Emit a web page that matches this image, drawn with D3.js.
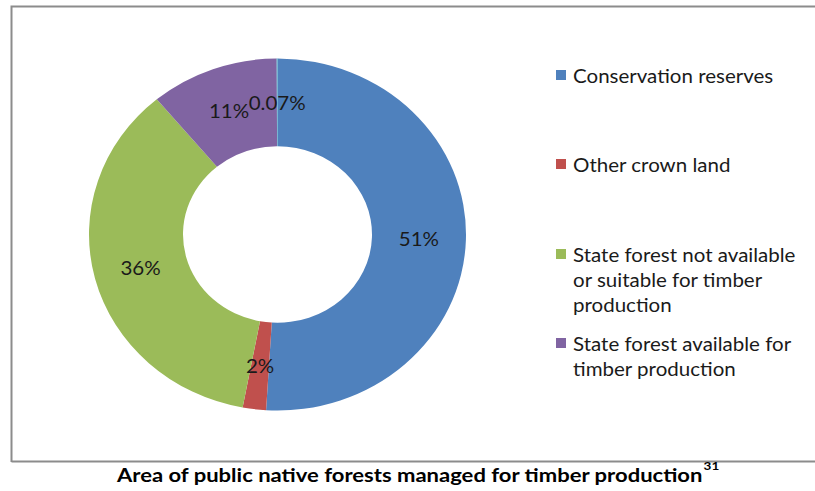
<!DOCTYPE html>
<html>
<head>
<meta charset="utf-8">
<script src="https://cdn.jsdelivr.net/npm/d3@7"></script>
<style>
  html, body { margin: 0; padding: 0; background: #fff; }
  svg { display: block; }
</style>
</head>
<body>
<svg id="chart" width="815" height="491"></svg>
<script>
// Share of public native forest area by tenure / availability
const categories = [
  "Conservation reserves",
  "Other crown land",
  "State forest not available or suitable for timber production",
  "State forest available for timber production",
  "Other"
];
const values = [51, 2, 36, 11, 0.07];
const valueLabels = ["51%", "2%", "36%", "11%", "0.07%"];
const colors = ["#4F81BD", "#C0504D", "#9BBB59", "#8064A2", "#4BACC6"];

// Legend rows (wrapped text), only the four named categories are listed
const legendLines = [
  ["Conservation reserves"],
  ["Other crown land"],
  ["State forest not available", "or suitable for timber", "production"],
  ["State forest available for", "timber production"]
];
const legendRowY = [75, 164, 254, 343];

const titleText = "Area of public native forests managed for timber production";
const titleNote = "31";

const FONT = "Lato, 'Open Sans', sans-serif";
const TEXT_STRETCH = 1.08;   // the chart is drawn slightly wide

const svg = d3.select("#chart");

// Chart frame (right edge runs off the page)
svg.append("path")
  .attr("d", "M11.5,462 L11.5,6.5 L815,6.5 M11.5,461.5 L815,461.5")
  .attr("fill", "none")
  .attr("stroke", "#8c8c8c")
  .attr("stroke-width", 2);

// Donut (slightly flattened vertically)
const cx = 277.5, cy = 234.5, rOuter = 188.5, rInner = 94.5;
const yScale = 176 / 188.5;

const pie = d3.pie().sort(null).value(d => d)
  .startAngle(0).endAngle(2 * Math.PI);
const arcs = pie(values);
const arc = d3.arc().innerRadius(rInner).outerRadius(rOuter);
const midR = (rInner + rOuter) / 2;
const labelArc = d3.arc().innerRadius(midR).outerRadius(midR);

const ring = svg.append("g")
  .attr("transform", `translate(${cx},${cy}) scale(1,${yScale})`);
ring.selectAll("path.slice")
  .data(arcs)
  .join("path")
  .attr("class", "slice")
  .attr("d", arc)
  .attr("fill", (d, i) => colors[i]);

// Value labels at the middle of the ring
svg.append("g")
  .selectAll("text")
  .data(arcs)
  .join("text")
  .attr("transform", d => {
    const [x, y] = labelArc.centroid(d);
    return `translate(${cx + x},${cy + y * yScale}) scale(${TEXT_STRETCH},1)`;
  })
  .attr("text-anchor", "middle")
  .attr("dominant-baseline", "central")
  .attr("font-family", FONT)
  .attr("font-size", 19)
  .attr("fill", "#1a1a1a")
  .text((d, i) => valueLabels[i]);

// Legend
const legend = svg.append("g");
legendLines.forEach((lines, i) => {
  const y0 = legendRowY[i];
  legend.append("rect")
    .attr("x", 556).attr("y", y0 - 5)
    .attr("width", 10).attr("height", 10)
    .attr("fill", colors[i]);
  lines.forEach((line, j) => {
    legend.append("text")
      .attr("transform", `translate(573,${y0 + j * 25}) scale(${TEXT_STRETCH},1)`)
      .attr("dominant-baseline", "central")
      .attr("font-family", FONT)
      .attr("font-size", 19)
      .attr("fill", "#1a1a1a")
      .text(line);
  });
});

// Caption below the frame
const title = svg.append("text")
  .attr("transform", "translate(117,482) scale(1.13,1)")
  .attr("font-family", FONT)
  .attr("font-weight", "bold")
  .attr("font-size", 19.5)
  .attr("fill", "#000");
title.append("tspan").text(titleText);
title.append("tspan")
  .attr("dx", 1)
  .attr("dy", -12)
  .attr("font-size", 12)
  .text(titleNote);
</script>
</body>
</html>
